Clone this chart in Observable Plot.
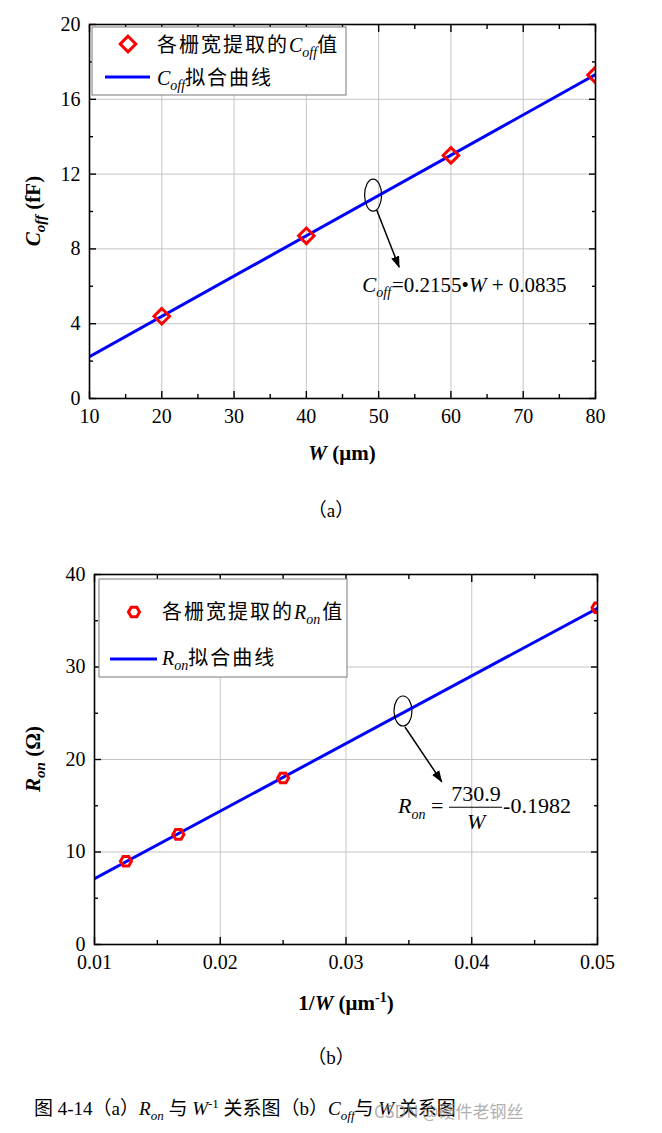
<!DOCTYPE html>
<html><head><meta charset="utf-8">
<script src="https://cdn.jsdelivr.net/npm/d3@7"></script>
<script src="https://cdn.jsdelivr.net/npm/@observablehq/plot@0.6"></script>
<style>
body{margin:0;background:#fff;}
#wrap{position:relative;width:662px;height:1133px;overflow:hidden;font-family:"Liberation Serif","Times New Roman","DejaVu Serif","Noto Sans CJK SC",serif;color:#000;}
#wrap svg{position:absolute;left:0;}
.cap{position:absolute;left:0;width:662px;text-align:center;font-size:19px;line-height:24px;white-space:nowrap;}
.cap sub,.cap sup{font-size:13px;line-height:0;}
</style></head><body><div id="wrap"></div>
<script>
// ---- data (a) ----
const W_um = [20, 40, 60, 80];
const C_off = [4.4, 8.7, 13.0, 17.3];
const fitA_W = [10, 80];
const fitA_C = [2.24, 17.32];
const xMajorA = [10, 20, 30, 40, 50, 60, 70, 80];
const xMinorA = [15, 25, 35, 45, 55, 65, 75];
const yMajorA = [0, 4, 8, 12, 16, 20];
const yMinorA = [2, 6, 10, 14, 18];
// ---- data (b) ----
const invW = [0.0125, 0.01667, 0.025, 0.05];
const R_on = [9.0, 11.9, 18.0, 36.4];
const fitB_x = [0.01, 0.05];
const fitB_R = [7.11, 36.35];
const xMajorB = [0.01, 0.02, 0.03, 0.04, 0.05];
const xMinorB = [0.015, 0.025, 0.035, 0.045];
const yMajorB = [0, 10, 20, 30, 40];
const yMinorB = [5, 15, 25, 35];

const FONT = '"Liberation Serif","Times New Roman","DejaVu Serif","Noto Sans CJK SC",serif';
const wrap = document.getElementById("wrap");

function frameMarks(xMaj, xMin, yMaj, yMin, xFmt) {
  const grid = {stroke: "#c4c4c4", strokeOpacity: 1, strokeWidth: 1};
  const tk = {stroke: "#000", strokeWidth: 1.4, label: null};
  return [
    Plot.gridX(xMaj, grid),
    Plot.gridY(yMaj, grid),
    Plot.axisX(xMaj, {...tk, anchor: "bottom", tickSize: -7, tickPadding: 17, fill: "#000", tickFormat: xFmt, fontFamily: FONT}),
    Plot.axisX(xMin, {...tk, anchor: "bottom", tickSize: -4, fill: "none"}),
    Plot.axisX(xMaj, {...tk, anchor: "top", tickSize: -7, fill: "none"}),
    Plot.axisX(xMin, {...tk, anchor: "top", tickSize: -4, fill: "none"}),
    Plot.axisY(yMaj, {...tk, anchor: "left", tickSize: -7, tickPadding: 16, fill: "#000", fontFamily: FONT}),
    Plot.axisY(yMin, {...tk, anchor: "left", tickSize: -4, fill: "none"}),
    Plot.axisY(yMaj, {...tk, anchor: "right", tickSize: -7, fill: "none"}),
    Plot.axisY(yMin, {...tk, anchor: "right", tickSize: -4, fill: "none"})
  ];
}

function addText(g, x, y, parts, o = {}) {
  const t = g.append("text").attr("x", x).attr("y", y)
    .attr("font-size", o.size || 20).attr("font-weight", o.weight || "normal")
    .attr("text-anchor", o.anchor || "start").attr("fill", "#000").attr("font-family", FONT);
  if (o.rotate) t.attr("transform", `rotate(${o.rotate},${x},${y})`);
  for (const p of parts) {
    const s = t.append("tspan").text(p.t);
    if (p.i) s.attr("font-style", "italic");
    if (p.size) s.attr("font-size", p.size);
    if (p.dy) s.attr("dy", p.dy);
    if (p.dx) s.attr("dx", p.dx);
    if (p.ls) s.attr("letter-spacing", p.ls);
  }
  return t;
}

function addArrowDefs(svg, id) {
  d3.select(svg).append("defs").append("marker").attr("id", id)
    .attr("viewBox", "0 0 10 10").attr("refX", 9).attr("refY", 5)
    .attr("markerUnits", "userSpaceOnUse").attr("markerWidth", 12).attr("markerHeight", 12)
    .attr("orient", "auto")
    .append("path").attr("d", "M0,1.5L10,5L0,8.5z").attr("fill", "#000");
}

// ================= Plot (a) =================
const tableA = W_um.map((w, i) => ({W: w, C: C_off[i]}));
const fitTableA = fitA_W.map((w, i) => ({W: w, C: fitA_C[i]}));
const plotA = Plot.plot({
  width: 662, height: 470,
  marginLeft: 89, marginRight: 67, marginTop: 24, marginBottom: 72,
  x: {domain: [10, 80]}, y: {domain: [0, 20]},
  style: {fontFamily: FONT, fontSize: "20px", background: "transparent", color: "#000", overflow: "visible"},
  marks: [
    ...frameMarks(xMajorA, xMinorA, yMajorA, yMinorA, d3.format("d")),
    Plot.line(fitTableA, {x: "W", y: "C", stroke: "#0000ff", strokeWidth: 3, clip: true}),
    Plot.dot(tableA, {x: "W", y: "C", symbol: "diamond2", r: 7, stroke: "#ff0000", strokeWidth: 3, fill: "none", clip: true}),
    Plot.frame({stroke: "#000", strokeWidth: 1.6})
  ]
});
plotA.style.top = "0px";
wrap.appendChild(plotA);
{
  const sx = plotA.scale("x"), sy = plotA.scale("y");
  const g = d3.select(plotA).append("g");
  addArrowDefs(plotA, "arrA");
  addText(g, 342, 460, [{t: "W", i: true}, {t: " (μm)"}], {weight: "bold", size: 21, anchor: "middle"});
  addText(g, 40, 211, [{t: "C", i: true}, {t: "off", i: true, size: 15, dy: 5}, {t: " (fF)", dy: -5}], {weight: "bold", size: 21, anchor: "middle", rotate: -90});
  // legend
  g.append("rect").attr("x", 92).attr("y", 27).attr("width", 254).attr("height", 68)
    .attr("fill", "#fff").attr("stroke", "#7a7a7a").attr("stroke-width", 1);
  g.append("path").attr("transform", "translate(128,44)")
    .attr("d", d3.symbol(d3.symbolDiamond2, Math.PI * 49)())
    .attr("fill", "none").attr("stroke", "#ff0000").attr("stroke-width", 3);
  addText(g, 157, 52, [{t: "各栅宽提取的", ls: 2}, {t: "C", i: true}, {t: "off", i: true, size: 14, dy: 5}, {t: "值", dy: -5}], {size: 20});
  g.append("line").attr("x1", 105).attr("x2", 150).attr("y1", 77).attr("y2", 77)
    .attr("stroke", "#0000ff").attr("stroke-width", 3);
  addText(g, 157, 85, [{t: "C", i: true}, {t: "off", i: true, size: 14, dy: 5}, {t: "拟合曲线", dy: -5, ls: 2}], {size: 20});
  // annotation
  const ex = sx.apply(49.3), ey = sy.apply(10.85);
  g.append("ellipse").attr("cx", ex).attr("cy", ey).attr("rx", 8.5).attr("ry", 16)
    .attr("fill", "none").attr("stroke", "#000").attr("stroke-width", 1.2);
  g.append("line").attr("x1", sx.apply(49.8)).attr("y1", sy.apply(10.05))
    .attr("x2", sx.apply(52.9)).attr("y2", sy.apply(7.0))
    .attr("stroke", "#000").attr("stroke-width", 1.5).attr("marker-end", "url(#arrA)");
  addText(g, sx.apply(47.8), sy.apply(5.67), [
    {t: "C", i: true}, {t: "off", i: true, size: 14, dy: 5}, {t: "=0.2155•", dy: -5, dx: 1}, {t: "W", i: true}, {t: " + 0.0835"}
  ], {size: 21});
}

// ================= Plot (b) =================
const tableB = invW.map((x, i) => ({x, R: R_on[i]}));
const fitTableB = fitB_x.map((x, i) => ({x, R: fitB_R[i]}));
const plotB = Plot.plot({
  width: 662, height: 470,
  marginLeft: 94, marginRight: 65, marginTop: 24, marginBottom: 76,
  x: {domain: [0.01, 0.05]}, y: {domain: [0, 40]},
  style: {fontFamily: FONT, fontSize: "20px", background: "transparent", color: "#000", overflow: "visible"},
  marks: [
    ...frameMarks(xMajorB, xMinorB, yMajorB, yMinorB, d3.format(".2")),
    Plot.line(fitTableB, {x: "x", y: "R", stroke: "#0000ff", strokeWidth: 3, clip: true}),
    Plot.dot(tableB, {x: "x", y: "R", symbol: "hexagon", rotate: 90, r: 4.8, stroke: "#ff0000", strokeWidth: 3, fill: "none", clip: true}),
    Plot.frame({stroke: "#000", strokeWidth: 1.6})
  ]
});
plotB.style.top = "550px";
wrap.appendChild(plotB);
{
  const sx = plotB.scale("x"), sy = plotB.scale("y");
  const g = d3.select(plotB).append("g");
  addArrowDefs(plotB, "arrB");
  addText(g, 346, 460, [{t: "1/"}, {t: "W", i: true}, {t: " (μm"}, {t: "-1", size: 14, dy: -8}, {t: ")", dy: 8}], {weight: "bold", size: 21, anchor: "middle"});
  addText(g, 40, 209, [{t: "R", i: true}, {t: "on", i: true, size: 15, dy: 5}, {t: " (Ω)", dy: -5}], {weight: "bold", size: 21, anchor: "middle", rotate: -90});
  // legend
  g.append("rect").attr("x", 99).attr("y", 29).attr("width", 248).attr("height", 98)
    .attr("fill", "#fff").attr("stroke", "#7a7a7a").attr("stroke-width", 1);
  const hx = 4.8, hy = hx * 2 / Math.sqrt(3);
  g.append("path").attr("transform", "translate(134,62)")
    .attr("d", `M${-hy},0L${-hy / 2},${-hx}L${hy / 2},${-hx}L${hy},0L${hy / 2},${hx}L${-hy / 2},${hx}Z`)
    .attr("fill", "none").attr("stroke", "#ff0000").attr("stroke-width", 3);
  addText(g, 162, 69, [{t: "各栅宽提取的", ls: 2}, {t: "R", i: true}, {t: "on", i: true, size: 14, dy: 5}, {t: "值", dy: -5, dx: 2}], {size: 20});
  g.append("line").attr("x1", 110).attr("x2", 157).attr("y1", 109).attr("y2", 109)
    .attr("stroke", "#0000ff").attr("stroke-width", 3);
  addText(g, 162, 115, [{t: "R", i: true}, {t: "on", i: true, size: 14, dy: 5}, {t: "拟合曲线", dy: -5, ls: 2}], {size: 20});
  // annotation
  g.append("ellipse").attr("cx", sx.apply(0.03457)).attr("cy", sy.apply(25.19)).attr("rx", 9).attr("ry", 15)
    .attr("fill", "none").attr("stroke", "#000").attr("stroke-width", 1.2);
  g.append("line").attr("x1", sx.apply(0.03473)).attr("y1", sy.apply(23.46))
    .attr("x2", sx.apply(0.03765)).attr("y2", sy.apply(17.55))
    .attr("stroke", "#000").attr("stroke-width", 1.5).attr("marker-end", "url(#arrB)");
  const fx = sx.apply(0.03418), fy = sy.apply(14.19);
  addText(g, fx, fy, [{t: "R", i: true}, {t: "on", i: true, size: 14, dy: 6}], {size: 22});
  addText(g, fx + 33, fy, [{t: "="}], {size: 22});
  addText(g, fx + 78, fy - 12, [{t: "730.9"}], {size: 22, anchor: "middle"});
  g.append("line").attr("x1", fx + 51).attr("x2", fx + 104).attr("y1", fy - 5.5).attr("y2", fy - 5.5)
    .attr("stroke", "#000").attr("stroke-width", 1);
  addText(g, fx + 78, fy + 16, [{t: "W", i: true}], {size: 22, anchor: "middle"});
  addText(g, fx + 105, fy, [{t: "-0.1982"}], {size: 22});
}

// captions
const capA = document.createElement("div");
capA.className = "cap"; capA.style.top = "499px"; capA.textContent = "（a）";
wrap.appendChild(capA);
const capB = document.createElement("div");
capB.className = "cap"; capB.style.top = "1046px"; capB.textContent = "（b）";
wrap.appendChild(capB);
const capF = document.createElement("div");
capF.className = "cap";
capF.style.cssText = "top:1097px;left:34px;width:auto;text-align:left;font-size:19px;";
capF.innerHTML = '图 4-14（a）<i>R</i><sub><i>on</i></sub> 与 <i>W</i><sup>-1</sup> 关系图（b）<i>C</i><sub><i>off</i></sub>与 <i>W</i> 关系图';
wrap.appendChild(capF);
const wm = document.createElement("div");
wm.className = "cap";
wm.style.cssText = "top:1099px;left:374px;width:auto;text-align:left;font-size:17px;color:rgba(140,140,140,0.7);font-family:'Noto Sans CJK SC',sans-serif;";
wm.textContent = "CSDN @硬件老钢丝";
wrap.appendChild(wm);
</script></body></html>
